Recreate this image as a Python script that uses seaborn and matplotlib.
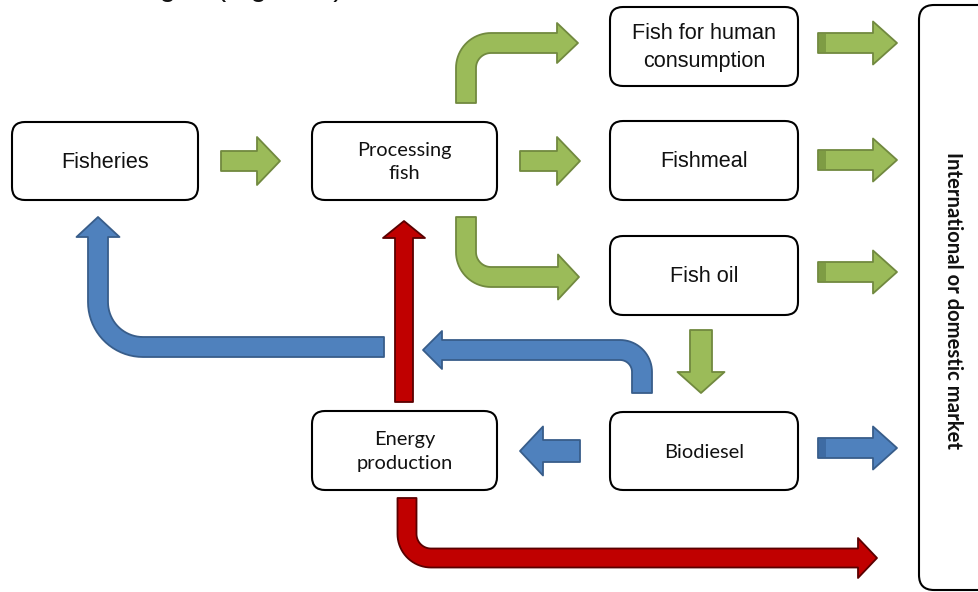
import numpy as np
import matplotlib
matplotlib.use("Agg")
import matplotlib.pyplot as plt
from matplotlib.patches import FancyBboxPatch, Polygon, Rectangle
import seaborn as sns

# boxes of the flow diagram
box_labels = ["Fisheries", "Processing\nfish", "Fish for human\nconsumption", "Fishmeal",
              "Fish oil", "Biodiesel", "Energy\nproduction"]
box_font = ["arial", "calibri", "arial", "arial", "arial", "calibri", "calibri"]
box_left = [12, 312, 610, 610, 610, 610, 312]
box_top = [122, 122, 7, 121, 236, 412, 411]
box_w = [186, 185, 188, 188, 188, 188, 185]
box_h = [78, 78, 79, 79, 79, 78, 79]

market_label = "International or domestic market"
top_text = "Sold to the grid (Figure 5)"

# arrows: centre line waypoints (start ... tip)
arrow_paths = [
    [(221, 161), (280, 161)],
    [(520, 161), (580, 161)],
    [(466, 103), (466, 43), (578, 43)],
    [(466, 217), (466, 277), (579, 277)],
    [(701, 330), (701, 393)],
    [(818, 43), (897, 43)],
    [(818, 160), (897, 160)],
    [(818, 272), (897, 272)],
    [(818, 448), (897, 448)],
    [(580, 451), (520, 451)],
    [(642, 393), (642, 350), (423, 350)],
    [(384, 347), (98, 347), (98, 217)],
    [(404, 402), (404, 221)],
    [(407, 498), (407, 558), (877, 558)],
]
arrow_color = ["green", "green", "green", "green", "green", "green", "green", "green",
               "blue", "blue", "blue", "blue", "red", "red"]
arrow_width = [20, 20, 20, 20, 22, 20, 20, 20, 20, 22, 20, 20, 18, 19]
arrow_head_w = [48, 48, 40, 45, 47, 43, 43, 43, 43, 49, 38, 43, 42, 40]
arrow_head_len = [23, 23, 21, 21, 21, 24, 24, 24, 24, 23, 19, 20, 17, 19]
arrow_radius = [0, 0, 25, 25, 0, 0, 0, 0, 0, 0, 22, 45, 0, 24]
arrow_bevel = [False, False, False, False, False, True, True, True, True, False, False, False, False, False]

pal = {"green": ("#9BBB59", "#71893F", "#7E9C44"),
       "blue": ("#4F81BD", "#385D8A", "#3E6BA3"),
       "red": ("#C00000", "#5A0000", "#A00000")}

sns.set_theme(style="white")
plt.rcParams['font.family'] = ['Liberation Sans', 'DejaVu Sans']


def centre_line(pts, r):
    pts = [np.array(p, float) for p in pts]
    out = [pts[0]]
    for i in range(1, len(pts) - 1):
        a = pts[i] - pts[i - 1]
        a /= np.linalg.norm(a)
        b = pts[i + 1] - pts[i]
        b /= np.linalg.norm(b)
        c = pts[i] - a * r + b * r
        for phi in np.linspace(0, np.pi / 2, 20):
            out.append(c - b * r * np.cos(phi) + a * r * np.sin(phi))
    out.append(pts[-1])
    return np.array(out)


def block_arrow(ax, pts, r, w, hw, hl, fc, ec):
    line = centre_line(pts, r)
    d = line[-1] - line[-2]
    d /= np.linalg.norm(d)
    tip = line[-1].copy()
    line[-1] = tip - d * hl
    tang = np.gradient(line, axis=0)
    tang /= np.linalg.norm(tang, axis=1)[:, None]
    nrm = np.column_stack([-tang[:, 1], tang[:, 0]])
    left = line + nrm * w / 2
    right = line - nrm * w / 2
    base = line[-1]
    n_end = nrm[-1]
    poly = np.vstack([left, [base + n_end * hw / 2], [tip], [base - n_end * hw / 2], right[::-1]])
    ax.add_patch(Polygon(poly, closed=True, fc=fc, ec=ec, lw=1.3, joinstyle="round", zorder=2))


fig = plt.figure(figsize=(9.79, 5.92), dpi=100)
ax = fig.add_axes([0, 0, 1, 1])
ax.set_xlim(0, 979)
ax.set_ylim(592, 0)
ax.axis("off")

for lab, fnt, x, y, w, h in zip(box_labels, box_font, box_left, box_top, box_w, box_h):
    ax.add_patch(FancyBboxPatch((x, y), w, h, boxstyle="round,pad=0,rounding_size=13",
                                fc="white", ec="black", lw=1.5, zorder=3))
    if fnt == "arial":
        ax.text(x + w / 2, y + h / 2 + 1, lab, ha="center", va="center", fontsize=15.6,
                linespacing=1.4, color="#111111", family=["Liberation Sans", "DejaVu Sans"], zorder=4)
    else:
        ax.text(x + w / 2, y + h / 2 + 1, lab, ha="center", va="center", fontsize=14.4,
                linespacing=1.45, color="#111111", family=["Lato", "DejaVu Sans"], zorder=4)

# market box, running off the right edge
ax.add_patch(FancyBboxPatch((919, 5), 120, 585, boxstyle="round,pad=0,rounding_size=15",
                            fc="white", ec="black", lw=1.5, zorder=3))
ax.text(953, 300, market_label, rotation=-90, ha="center", va="center", fontsize=14.6,
        fontweight="bold", color="#111111", family=["Lato", "DejaVu Sans"], zorder=4)

# caption line above the figure, mostly cut off at the top edge
ax.text(12, -3.5, top_text, ha="left", va="baseline", fontsize=21, color="#111111", zorder=4)

for pts, col, w, hw, hl, r, bev in zip(arrow_paths, arrow_color, arrow_width, arrow_head_w,
                                       arrow_head_len, arrow_radius, arrow_bevel):
    fc, ec, dark = pal[col]
    block_arrow(ax, pts, r, w, hw, hl, fc, ec)
    if bev:
        x0, y0 = pts[0]
        ax.add_patch(Rectangle((x0 + 0.7, y0 - w / 2 + 0.7), 7, w - 1.4, fc=dark, ec="none", zorder=2.5))

fig.savefig("out.png", dpi=100)
